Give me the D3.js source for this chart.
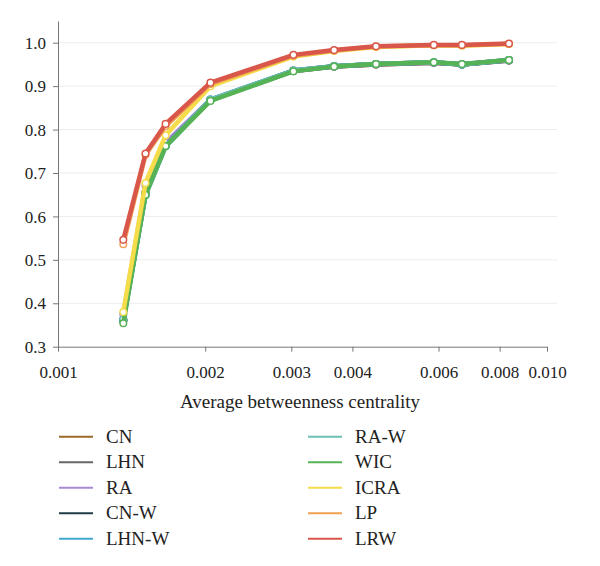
<!DOCTYPE html>
<html>
<head>
<meta charset="utf-8">
<script src="https://cdn.jsdelivr.net/npm/d3@7"></script>
<style>
  body { margin: 0; background: #fff; }
  .chart text { font-family: "Liberation Serif", "DejaVu Serif", serif; fill: #222; }
  .axis path, .axis line { stroke: #777; }
</style>
</head>
<body>
<svg class="chart"></svg>
<script>
// DATA /////////////////////////////////////////
const xValues = [0.00136, 0.00151, 0.00166, 0.00205, 0.00303, 0.00367, 0.00447, 0.00587, 0.0067, 0.00836];
const seriesNames = ["CN", "LHN", "RA", "CN-W", "LHN-W", "RA-W", "WIC", "ICRA", "LP", "LRW"];
const seriesColors = ["#9c6b2a", "#666666", "#a98bd4", "#1f3b44", "#41a8cc", "#6cbfb5", "#55b355", "#f5dc4a", "#f0a050", "#d9574a"];
const cnValues = [0.362, 0.655, 0.765, 0.868, 0.935, 0.945, 0.950, 0.954, 0.950, 0.959];
const lhnValues = [0.362, 0.655, 0.765, 0.868, 0.935, 0.945, 0.950, 0.954, 0.950, 0.959];
const raValues = [0.375, 0.671, 0.770, 0.869, 0.935, 0.945, 0.951, 0.954, 0.951, 0.959];
const cnwValues = [0.360, 0.650, 0.762, 0.868, 0.936, 0.946, 0.951, 0.955, 0.950, 0.960];
const lhnwValues = [0.360, 0.650, 0.762, 0.869, 0.936, 0.946, 0.951, 0.955, 0.950, 0.960];
const rawValues = [0.363, 0.648, 0.761, 0.869, 0.936, 0.946, 0.951, 0.955, 0.950, 0.960];
const wicValues = [0.354, 0.650, 0.762, 0.866, 0.934, 0.945, 0.951, 0.955, 0.951, 0.960];
const icraValues = [0.380, 0.677, 0.787, 0.900, 0.968, 0.981, 0.990, 0.994, 0.993, 0.997];
const lpValues = [0.536, 0.742, 0.808, 0.905, 0.970, 0.982, 0.991, 0.994, 0.994, 0.997];
const lrwValues = [0.546, 0.745, 0.813, 0.908, 0.972, 0.983, 0.992, 0.995, 0.995, 0.998];
const xTicks = [0.001, 0.002, 0.003, 0.004, 0.006, 0.008, 0.010];
const yTicks = [0.3, 0.4, 0.5, 0.6, 0.7, 0.8, 0.9, 1.0];

const allValues = [cnValues, lhnValues, raValues, cnwValues, lhnwValues, rawValues, wicValues, icraValues, lpValues, lrwValues];
const series = seriesNames.map((name, i) => ({
  name,
  color: seriesColors[i],
  points: xValues.map((x, j) => ({ x, y: allValues[i][j] }))
}));

// DEFINITIONS //////////////////////////////////
const serif = "Liberation Serif, DejaVu Serif, serif";
const margin = { top: 21, left: 58 };
const width = 489;
const height = 325.7;

const svg = d3.select(".chart").attr("width", 600).attr("height", 566);
const chartG = svg.append("g").attr("transform", `translate(${margin.left}, ${margin.top})`);

const x = d3.scaleLog().domain([0.001, 0.010]).range([0, width]);
const y = d3.scaleLinear().domain([0.3, 1.05]).range([height, 0]);

// gridlines
chartG.selectAll(".grid")
  .data(yTicks.slice(1))
  .enter()
  .append("line")
  .attr("x1", 0)
  .attr("x2", width + 10)
  .attr("y1", (d) => y(d))
  .attr("y2", (d) => y(d))
  .attr("stroke", "#ececec")
  .attr("stroke-width", 1);

// axes
const yAxis = chartG.append("g")
  .attr("class", "axis")
  .call(d3.axisLeft(y).tickValues(yTicks).tickFormat(d3.format(".1f")).tickSize(5).tickSizeOuter(0))
  .attr("font-family", serif)
  .attr("font-size", 17);
yAxis.selectAll("text")
  .attr("font-family", serif)
  .attr("x", -12)
  .attr("dy", "0.33em");

const xAxis = chartG.append("g")
  .attr("class", "axis")
  .attr("transform", `translate(0, ${height})`)
  .call(d3.axisBottom(x).tickValues(xTicks).tickFormat(d3.format(".3f")).tickSize(5).tickSizeOuter(0))
  .attr("font-family", serif)
  .attr("font-size", 17);
xAxis.selectAll("text")
  .attr("font-family", serif)
  .attr("y", 19)
  .attr("dy", "0.71em");

chartG.append("text")
  .attr("x", 300 - margin.left)
  .attr("y", 408 - margin.top)
  .attr("text-anchor", "middle")
  .attr("font-family", serif)
  .attr("font-size", 19)
  .text("Average betweenness centrality");

// lines
const line = d3.line().x((d) => x(d.x)).y((d) => y(d.y));

const seriesG = chartG.selectAll(".series")
  .data(series)
  .enter()
  .append("g");

seriesG.append("path")
  .attr("d", (d) => line(d.points))
  .attr("fill", "none")
  .attr("stroke", (d) => d.color)
  .attr("stroke-width", 4.5)
  .attr("stroke-linejoin", "round");

seriesG.selectAll("circle")
  .data((d) => d.points.map((p) => ({ ...p, color: d.color })))
  .enter()
  .append("circle")
  .attr("cx", (d) => x(d.x))
  .attr("cy", (d) => y(d.y))
  .attr("r", 3.3)
  .attr("fill", "#fff")
  .attr("stroke", (d) => d.color)
  .attr("stroke-width", 1.5);

// legend
const legendG = svg.append("g");
const legendItem = legendG.selectAll(".legend")
  .data(series)
  .enter()
  .append("g")
  .attr("transform", (d, i) => `translate(${i < 5 ? 59 : 308}, ${436.7 + (i % 5) * 25.5})`);

legendItem.append("line")
  .attr("x1", 0)
  .attr("x2", 34)
  .attr("stroke", (d) => d.color)
  .attr("stroke-width", 2);

legendItem.append("text")
  .attr("x", 47)
  .attr("dy", "0.33em")
  .attr("font-family", serif)
  .attr("font-size", 19)
  .text((d) => d.name);
</script>
</body>
</html>
